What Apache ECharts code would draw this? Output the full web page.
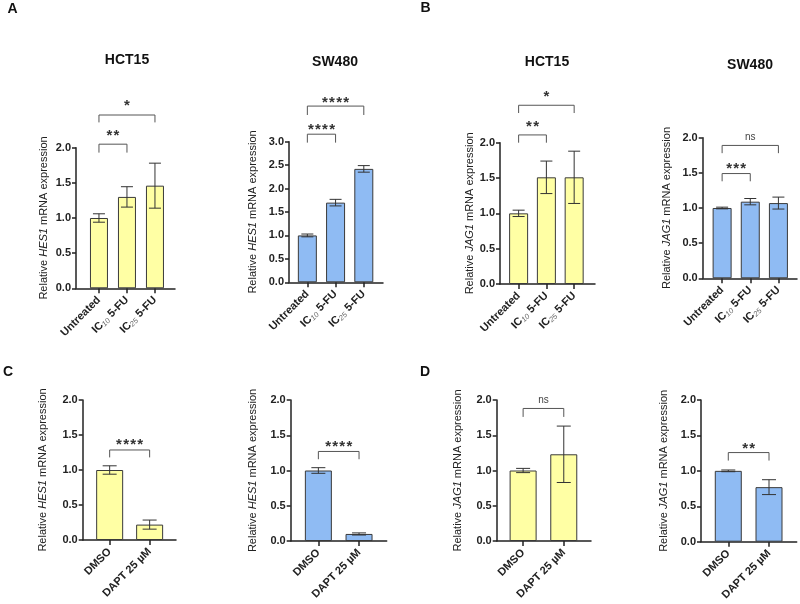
<!DOCTYPE html>
<html>
<head>
<meta charset="utf-8">
<script src="https://cdn.jsdelivr.net/npm/echarts@6/dist/echarts.min.js"></script>
<style>html,body{margin:0;padding:0;background:#fff}#c{width:800px;height:604px}</style>
</head>
<body>
<div id="c"></div>
<script>
// ---------- data ----------
const topCats = ['Untreated', 'IC10 5-FU', 'IC25 5-FU'];
const bottomCats = ['DMSO', 'DAPT 25 µM'];
const yTicks2 = [0, 0.5, 1.0, 1.5, 2.0];
const yTicks3 = [0, 0.5, 1.0, 1.5, 2.0, 2.5, 3.0];

const hes1Hct15 = [1.00, 1.30, 1.46];
const hes1Hct15Err = [0.06, 0.145, 0.32];
const hes1Sw480 = [1.00, 1.70, 2.42];
const hes1Sw480Err = [0.03, 0.07, 0.07];
const jag1Hct15 = [1.00, 1.51, 1.51];
const jag1Hct15Err = [0.045, 0.23, 0.37];
const jag1Sw480 = [1.00, 1.09, 1.07];
const jag1Sw480Err = [0.012, 0.045, 0.085];

const daptHes1Hct15 = [1.00, 0.22];
const daptHes1Hct15Err = [0.06, 0.065];
const daptHes1Sw480 = [1.00, 0.10];
const daptHes1Sw480Err = [0.04, 0.015];
const daptJag1Hct15 = [1.00, 1.23];
const daptJag1Hct15Err = [0.03, 0.40];
const daptJag1Sw480 = [1.00, 0.77];
const daptJag1Sw480Err = [0.012, 0.105];

// brackets: [from, to, barY, dropY, labelY, label]
const bracketsA1 = [[0, 1, 2.05, 1.93, 2.21, '**'], [0, 2, 2.465, 2.36, 2.64, '*']];
const bracketsA2 = [[0, 1, 3.16, 2.98, 3.32, '****'], [0, 2, 3.76, 3.57, 3.90, '****']];
const bracketsB1 = [[0, 1, 2.11, 2.00, 2.26, '**'], [0, 2, 2.53, 2.42, 2.69, '*']];
const bracketsB2 = [[0, 1, 1.49, 1.38, 1.60, '***'], [0, 2, 1.89, 1.78, 2.00, 'ns']];
const bracketsC1 = [[0, 1, 1.286, 1.18, 1.40, '****']];
const bracketsC2 = [[0, 1, 1.27, 1.16, 1.376, '****']];
const bracketsD1 = [[0, 1, 1.88, 1.76, 2.00, 'ns']];
const bracketsD2 = [[0, 1, 1.258, 1.145, 1.355, '**']];

const panelTitles = ['HCT15', 'SW480', 'HCT15', 'SW480'];
const panelLetters = ['A', 'B', 'C', 'D'];

// ---------- styling / layout ----------
const FONT = "'Liberation Sans', Arial, Helvetica, sans-serif";
const YELLOW = '#FFFFA4';
const BLUE = '#8FBBF3';
const INK = '#222';

const panels = [
  {grid: {left: 76, top: 147.7, width: 99, height: 140.6}, xr: [-0.82, 2.716], ymax: 2, ticks: yTicks2, cats: topCats, vals: hes1Hct15, errs: hes1Hct15Err, color: YELLOW, gene: 'HES1', br: bracketsA1, bw: 18, cap: 6, gap: 27},
  {grid: {left: 289, top: 141.7, width: 94, height: 140.6}, xr: [-0.65, 2.68], ymax: 3, ticks: yTicks3, cats: topCats, vals: hes1Sw480, errs: hes1Sw480Err, color: BLUE, gene: 'HES1', br: bracketsA2, bw: 19, cap: 6, gap: 31},
  {grid: {left: 500, top: 142.7, width: 95, height: 141.3}, xr: [-0.67, 2.75], ymax: 2, ticks: yTicks2, cats: topCats, vals: jag1Hct15, errs: jag1Hct15Err, color: YELLOW, gene: 'JAG1', br: bracketsB1, bw: 19, cap: 6, gap: 25},
  {grid: {left: 702.7, top: 137.7, width: 94.3, height: 140.6}, xr: [-0.69, 2.66], ymax: 2, ticks: yTicks2, cats: topCats, vals: jag1Sw480, errs: jag1Sw480Err, color: BLUE, gene: 'JAG1', br: bracketsB2, bw: 19, cap: 6, gap: 30},
  {grid: {left: 82.7, top: 400, width: 93.3, height: 140}, xr: [-0.675, 1.66], ymax: 2, ticks: yTicks2, cats: bottomCats, vals: daptHes1Hct15, errs: daptHes1Hct15Err, color: YELLOW, gene: 'HES1', br: bracketsC1, bw: 27, cap: 7, gap: 34},
  {grid: {left: 290.7, top: 400, width: 96, height: 141}, xr: [-0.68, 1.68], ymax: 2, ticks: yTicks2, cats: bottomCats, vals: daptHes1Sw480, errs: daptHes1Sw480Err, color: BLUE, gene: 'HES1', br: bracketsC2, bw: 27, cap: 7, gap: 32},
  {grid: {left: 496.7, top: 400, width: 94.3, height: 141}, xr: [-0.65, 1.67], ymax: 2, ticks: yTicks2, cats: bottomCats, vals: daptJag1Hct15, errs: daptJag1Hct15Err, color: YELLOW, gene: 'JAG1', br: bracketsD1, bw: 27, cap: 7, gap: 33},
  {grid: {left: 701, top: 400, width: 95.7, height: 141.7}, xr: [-0.67, 1.68], ymax: 2, ticks: yTicks2, cats: bottomCats, vals: daptJag1Sw480, errs: daptJag1Sw480Err, color: BLUE, gene: 'JAG1', br: bracketsD2, bw: 27, cap: 7, gap: 32}
];

function catLabel(name) {
  const m = name.match(/^IC(\d+)(.*)$/);
  if (m) return '{b|IC}{s|' + m[1] + '}{b|' + m[2] + '}';
  return '{b|' + name + '}';
}

const grids = [], xAxes = [], yAxes = [], series = [];
panels.forEach((p, i) => {
  grids.push(Object.assign({containLabel: false}, p.grid));
  const idx = p.cats.map((_, k) => k);
  xAxes.push({
    type: 'value', gridIndex: i, min: p.xr[0], max: p.xr[1],
    splitLine: {show: false},
    axisLine: {show: true, onZero: false, lineStyle: {color: INK, width: 1.5}},
    axisTick: {show: true, customValues: idx, length: 5, lineStyle: {color: INK, width: 1.5}},
    axisLabel: {
      customValues: idx, rotate: 45, margin: 10,
      formatter: v => catLabel(p.cats[Math.round(v)]),
      rich: {
        b: {fontFamily: FONT, fontSize: 11, fontWeight: 'bold', color: INK},
        s: {fontFamily: FONT, fontSize: 7.5, fontStyle: 'italic', color: '#666', verticalAlign: 'bottom', padding: [5, 0, 0, 0]}
      }
    }
  });
  yAxes.push({
    type: 'value', gridIndex: i, min: 0, max: p.ymax, interval: 0.5,
    splitLine: {show: false},
    axisLine: {show: true, onZero: false, lineStyle: {color: INK, width: 1.5}},
    axisTick: {show: true, length: 4, lineStyle: {color: INK, width: 1.5}},
    axisLabel: {fontFamily: FONT, fontSize: 11, fontWeight: 'bold', color: INK, margin: 5,
      formatter: v => v.toFixed(1)},
    name: '{n|Relative }{i|' + p.gene + '}{n| mRNA expression}',
    nameLocation: 'middle', nameGap: p.gap,
    nameTextStyle: {rich: {
      n: {fontFamily: FONT, fontSize: 11, color: INK},
      i: {fontFamily: FONT, fontSize: 11, color: INK, fontStyle: 'italic'}
    }}
  });
  series.push({
    type: 'bar', xAxisIndex: i, yAxisIndex: i, barWidth: p.bw,
    data: p.vals.map((v, k) => [k, v]),
    itemStyle: {color: p.color, borderColor: '#3a3a3a', borderWidth: 1},
    silent: true, z: 2
  });
  series.push({
    type: 'custom', xAxisIndex: i, yAxisIndex: i, z: 3, silent: true,
    data: p.vals.map((v, k) => [k, v, p.errs[k]]),
    renderItem: (params, api) => {
      const x = api.value(0), m = api.value(1), e = api.value(2);
      const t = api.coord([x, m + e]), b = api.coord([x, m - e]);
      const st = {stroke: '#333', lineWidth: 1};
      return {type: 'group', children: [
        {type: 'line', shape: {x1: t[0], y1: t[1], x2: b[0], y2: b[1]}, style: st},
        {type: 'line', shape: {x1: t[0] - p.cap, y1: t[1], x2: t[0] + p.cap, y2: t[1]}, style: st},
        {type: 'line', shape: {x1: b[0] - p.cap, y1: b[1], x2: b[0] + p.cap, y2: b[1]}, style: st}
      ]};
    }
  });
  series.push({
    type: 'custom', xAxisIndex: i, yAxisIndex: i, z: 4, silent: true, clip: false,
    data: p.br.map(b => [b[0], b[1], b[2], b[3], b[4]]),
    renderItem: (params, api) => {
      const a = api.coord([api.value(0), api.value(2)]);
      const c = api.coord([api.value(1), api.value(2)]);
      const da = api.coord([api.value(0), api.value(3)]);
      const l = api.coord([(api.value(0) + api.value(1)) / 2, api.value(4)]);
      const lab = p.br[params.dataIndex][5];
      const isNs = lab === 'ns';
      return {type: 'group', children: [
        {type: 'polyline', shape: {points: [[a[0], da[1]], [a[0], a[1]], [c[0], c[1]], [c[0], da[1]]]},
          style: {stroke: '#555', lineWidth: 1, fill: null}},
        {type: 'text', x: l[0], y: l[1] + (isNs ? 0 : 3),
          style: {text: isNs ? lab : lab.split('').join('\u200A'), fill: isNs ? '#444' : '#333', align: 'center', verticalAlign: 'middle',
            fontFamily: FONT, fontSize: isNs ? 10 : 15, fontWeight: isNs ? 'normal' : 'bold'}}
      ]};
    }
  });
});

const graphic = [];
const titlePos = [[127, 60], [335, 62.5], [547, 61.7], [750, 65]];
titlePos.forEach((pos, k) => graphic.push({type: 'text', x: pos[0], y: pos[1],
  style: {text: panelTitles[k], align: 'center', verticalAlign: 'middle', fontFamily: FONT, fontSize: 14, fontWeight: 'bold', fill: '#111'}}));
const letterPos = [[12.5, 9], [425.5, 8], [8, 372], [425, 372]];
letterPos.forEach((pos, k) => graphic.push({type: 'text', x: pos[0], y: pos[1],
  style: {text: panelLetters[k], align: 'center', verticalAlign: 'middle', fontFamily: FONT, fontSize: 14, fontWeight: 'bold', fill: '#111'}}));

const chart = echarts.init(document.getElementById('c'), null, {renderer: 'canvas'});
chart.setOption({
  backgroundColor: '#fff',
  animation: false,
  grid: grids, xAxis: xAxes, yAxis: yAxes, series: series, graphic: graphic
});
</script>
</body>
</html>
